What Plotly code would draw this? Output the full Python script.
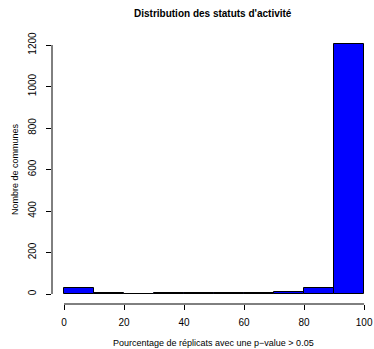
import plotly.graph_objects as go

# Data
bin_edges = [0, 10, 20, 30, 40, 50, 60, 70, 80, 90, 100]
counts = [27, 5, 2, 6, 6, 4, 5, 12, 27, 1205]
x_ticks = [0, 20, 40, 60, 80, 100]
y_ticks = [0, 200, 400, 600, 800, 1000, 1200]

title = "Distribution des statuts d'activité"
x_title = "Pourcentage de réplicats avec une p−value > 0.05"
y_title = "Nombre de communes"

centers = [(a + b) / 2 for a, b in zip(bin_edges[:-1], bin_edges[1:])]
widths = [b - a for a, b in zip(bin_edges[:-1], bin_edges[1:])]

FONT = "Liberation Sans, Arial, Helvetica, sans-serif"

fig = go.Figure(go.Bar(
    x=centers, y=counts, width=widths,
    marker=dict(color="#0000FF", line=dict(color="black", width=1)),
))

xr = [bin_edges[0] - 0.04 * (bin_edges[-1] - bin_edges[0]), 103.3]
ymax = max(counts)
yr = [-0.04 * ymax, ymax * 1.04]

fig.update_layout(
    width=374, height=349,
    margin=dict(l=52, r=0, t=34, b=45, autoexpand=False),
    paper_bgcolor="white", plot_bgcolor="white",
    showlegend=False, bargap=0,
    font=dict(family=FONT, color="black", size=10),
    xaxis=dict(range=xr, tickvals=x_ticks, ticks="outside", ticklen=5,
               tickcolor="black", showgrid=False, zeroline=False, showline=False,
               tickfont=dict(size=10), ticklabelstandoff=4, automargin=False),
    yaxis=dict(range=yr, tickvals=y_ticks, ticks="outside", ticklen=5,
               tickcolor="black", showgrid=False, zeroline=False, showline=False,
               tickangle=-90, tickfont=dict(size=10), ticklabelstandoff=6,
               automargin=False),
    shapes=[
        dict(type="line", xref="x", yref="paper", x0=x_ticks[0], x1=x_ticks[-1],
             y0=0, y1=0, line=dict(color="black", width=1)),
        dict(type="line", xref="paper", yref="y", x0=0, x1=0,
             y0=y_ticks[0], y1=y_ticks[-1], line=dict(color="black", width=1)),
    ],
    annotations=[
        dict(text="<b>" + title + "</b>", xref="paper", yref="paper", x=0.5,
             y=1, yshift=21, showarrow=False, font=dict(size=10),
             xanchor="center", yanchor="middle"),
        dict(text=x_title, xref="paper", yref="paper", x=0.5, y=0, yshift=-39,
             showarrow=False, font=dict(size=9), xanchor="center", yanchor="middle"),
        dict(text=y_title, xref="paper", yref="paper", x=0, xshift=-37, y=0.5,
             showarrow=False, font=dict(size=9), textangle=-90,
             xanchor="center", yanchor="middle"),
    ],
)

fig.write_html(
    "out.html",
    config={"displayModeBar": False},
    post_script="document.body.style.margin='0';document.body.style.overflow='hidden';",
)
